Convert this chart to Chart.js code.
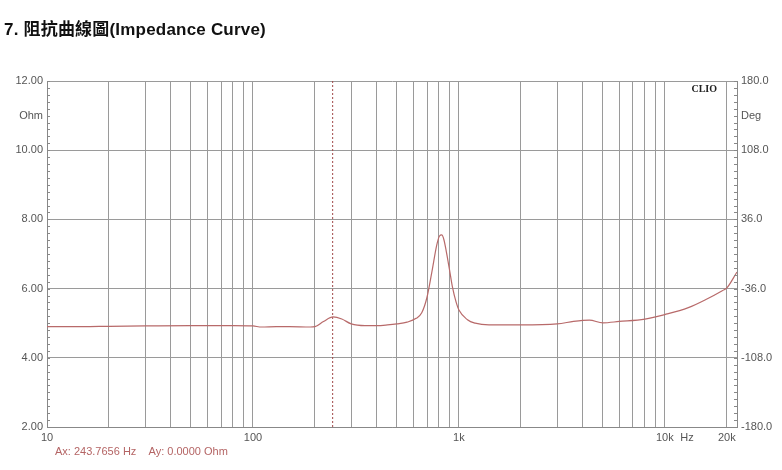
<!DOCTYPE html>
<html>
<head>
<meta charset="utf-8">
<script src="https://cdn.jsdelivr.net/npm/chart.js@4.4.0/dist/chart.umd.min.js"></script>
<style>
  html, body { margin: 0; padding: 0; background: #fff; }
  #wrap { position: relative; width: 782px; height: 470px; }
  #title {
    position: absolute; left: 4px; top: 15px;
    font-family: "Liberation Sans", "Noto Sans CJK TC", sans-serif;
    font-weight: bold; font-size: 17px; color: #111; letter-spacing: 0.2px;
  }
  #chart { position: absolute; left: 0; top: 0; }
</style>
</head>
<body>
<div id="wrap">
  <canvas id="chart" width="782" height="470"></canvas>
  <div id="title">7. 阻抗曲線圖(Impedance Curve)</div>
</div>
<script>
// ---------------------- DATA -------------------------
const freqHz = [10, 15, 20, 30, 50, 80, 100, 110, 130, 150, 190, 200, 220, 245, 270, 300, 350, 400, 450,
                500, 560, 620, 660, 700, 740, 780, 805, 825, 845, 870, 900, 930, 970, 1000, 1100, 1200, 1400, 2000,
                3000, 3600, 4000, 4300, 5000, 6000, 8000, 10000, 13000, 16000, 19000, 20000, 22400];
const impedanceOhm = [4.90, 4.90, 4.91, 4.92, 4.93, 4.93, 4.92, 4.89, 4.90, 4.90, 4.89, 4.90, 5.05, 5.18, 5.12, 4.98, 4.93, 4.93, 4.95,
                      4.98, 5.03, 5.14, 5.30, 5.75, 6.50, 7.25, 7.52, 7.55, 7.42, 7.05, 6.55, 6.05, 5.60, 5.38, 5.10, 5.00, 4.95, 4.95,
                      4.98, 5.05, 5.08, 5.09, 5.01, 5.05, 5.12, 5.25, 5.45, 5.70, 5.94, 6.02, 6.48];

const cursorHz = 243.7656;
const cursorOhm = 0.0;

const xGridTicks = [10, 20, 30, 40, 50, 60, 70, 80, 90, 100, 200, 300, 400, 500, 600, 700, 800, 900,
                    1000, 2000, 3000, 4000, 5000, 6000, 7000, 8000, 9000, 10000, 20000];
const xTickLabels = { 10: '10', 100: '100', 1000: '1k', 10000: '10k', 20000: '20k' };
const ohmTicks = [2, 3, 4, 5, 6, 7, 8, 9, 10, 11, 12];
const ohmLabels = { 12: '12.00', 11: 'Ohm', 10: '10.00', 8: '8.00', 6: '6.00', 4: '4.00', 2: '2.00' };
const degTicks = [-180, -144, -108, -72, -36, 0, 36, 72, 108, 144, 180];
const degLabels = { 180: '180.0', 144: 'Deg', 108: '108.0', 36: '36.0', '-36': '-36.0', '-108': '-108.0', '-180': '-180.0' };

const curveColor = '#b86a6a';
const gridColor = '#9a9a9a';
const labelColor = '#555';

// ---------------------- PLUGINS -------------------------
// minor tick marks, CLIO tag, Hz unit and cursor readout
const decorPlugin = {
  id: 'decor',
  afterDraw(chart) {
    const ctx = chart.ctx;
    const area = chart.chartArea;
    const y = chart.scales.y;
    const y2 = chart.scales.y2;
    const x = chart.scales.x;
    ctx.save();
    ctx.strokeStyle = '#888';
    ctx.lineWidth = 1;
    for (let v = 2; v <= 12.001; v += 0.2) {
      const py = Math.round(y.getPixelForValue(v)) + 0.5;
      ctx.beginPath(); ctx.moveTo(area.left, py); ctx.lineTo(area.left + 3, py); ctx.stroke();
    }
    for (let d = -180; d <= 180.001; d += 7.2) {
      const py = Math.round(y2.getPixelForValue(d)) + 0.5;
      ctx.beginPath(); ctx.moveTo(area.right - 3, py); ctx.lineTo(area.right, py); ctx.stroke();
    }
    // CLIO tag
    ctx.fillStyle = '#222';
    ctx.font = 'bold 10px "Liberation Serif", serif';
    ctx.textAlign = 'right';
    ctx.textBaseline = 'top';
    ctx.fillText('CLIO', area.right - 20, area.top + 3);
    // Hz unit next to 10k
    ctx.fillStyle = labelColor;
    ctx.font = '11px "Liberation Sans", Arial, sans-serif';
    ctx.textAlign = 'center';
    ctx.fillText('Hz', x.getPixelForValue(12800), area.bottom + 5);
    // cursor readout
    ctx.fillStyle = '#b46464';
    ctx.font = '11px "Liberation Sans", Arial, sans-serif';
    ctx.textAlign = 'left';
    ctx.fillText('Ax: ' + cursorHz.toFixed(4) + ' Hz    Ay: ' + cursorOhm.toFixed(4) + ' Ohm', area.left + 8, area.bottom + 19);
    ctx.restore();
  }
};

// ---------------------- CHART -------------------------
const ctx = document.getElementById('chart').getContext('2d');

new Chart(ctx, {
  type: 'scatter',
  data: {
    datasets: [
      {
        label: 'Impedance',
        data: freqHz.map((f, i) => ({ x: f, y: impedanceOhm[i] })),
        showLine: true,
        borderColor: curveColor,
        borderWidth: 1.2,
        pointRadius: 0,
        cubicInterpolationMode: 'monotone',
        yAxisID: 'y'
      },
      {
        label: 'Cursor',
        data: [{ x: cursorHz, y: 2 }, { x: cursorHz, y: 12 }],
        showLine: true,
        borderColor: '#a04848',
        borderWidth: 1,
        borderDash: [2, 2],
        pointRadius: 0,
        yAxisID: 'y'
      }
    ]
  },
  options: {
    responsive: false,
    animation: false,
    layout: { padding: { top: 81, left: 0, right: 0, bottom: 0 } },
    plugins: {
      legend: { display: false },
      tooltip: { enabled: false }
    },
    scales: {
      x: {
        type: 'logarithmic',
        min: 10,
        max: 22400,
        afterBuildTicks: (scale) => { scale.ticks = xGridTicks.map(v => ({ value: v })); },
        afterFit: (scale) => { scale.height = 43; },
        ticks: {
          autoSkip: false,
          maxRotation: 0,
          padding: 4,
          color: labelColor,
          font: { family: '"Liberation Sans", Arial, sans-serif', size: 11 },
          callback: (v) => xTickLabels[v] ?? ''
        },
        grid: { color: gridColor, drawTicks: false, lineWidth: 1 },
        border: { color: '#888' }
      },
      y: {
        position: 'left',
        min: 2,
        max: 12,
        afterBuildTicks: (scale) => { scale.ticks = ohmTicks.map(v => ({ value: v })); },
        afterFit: (scale) => { scale.width = 47; },
        ticks: {
          autoSkip: false,
          padding: 4,
          color: labelColor,
          font: { family: '"Liberation Sans", Arial, sans-serif', size: 11 },
          callback: (v) => ohmLabels[v] ?? ''
        },
        grid: {
          drawTicks: false,
          color: (c) => (c.tick && c.tick.value % 2 === 0) ? gridColor : 'rgba(0,0,0,0)'
        },
        border: { color: '#888' }
      },
      y2: {
        position: 'right',
        min: -180,
        max: 180,
        afterBuildTicks: (scale) => { scale.ticks = degTicks.map(v => ({ value: v })); },
        afterFit: (scale) => { scale.width = 45; },
        ticks: {
          autoSkip: false,
          padding: 4,
          color: labelColor,
          font: { family: '"Liberation Sans", Arial, sans-serif', size: 11 },
          callback: (v) => degLabels[v] ?? ''
        },
        grid: { drawOnChartArea: false, drawTicks: false },
        border: { color: '#888' }
      }
    }
  },
  plugins: [decorPlugin]
});
</script>
</body>
</html>
